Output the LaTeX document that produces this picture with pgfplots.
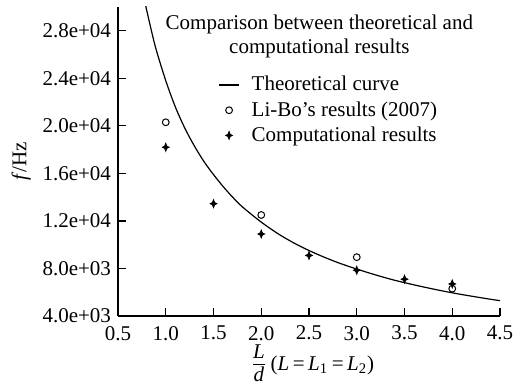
\documentclass[border=0pt]{standalone}
\usepackage{amsmath}
\usepackage{fontspec}
\setmainfont{Liberation Serif}
\usepackage{pgfplots}
\pgfplotsset{compat=1.18}

% filled four-pointed star used for the computational results
\pgfdeclareplotmark{sparkle}{%
  \pgfpathmoveto{\pgfpoint{0pt}{\pgfplotmarksize}}%
  \pgfpathlineto{\pgfpoint{0.28\pgfplotmarksize}{0.28\pgfplotmarksize}}%
  \pgfpathlineto{\pgfpoint{0.85\pgfplotmarksize}{0pt}}%
  \pgfpathlineto{\pgfpoint{0.28\pgfplotmarksize}{-0.28\pgfplotmarksize}}%
  \pgfpathlineto{\pgfpoint{0pt}{-\pgfplotmarksize}}%
  \pgfpathlineto{\pgfpoint{-0.28\pgfplotmarksize}{-0.28\pgfplotmarksize}}%
  \pgfpathlineto{\pgfpoint{-0.85\pgfplotmarksize}{0pt}}%
  \pgfpathlineto{\pgfpoint{-0.28\pgfplotmarksize}{0.28\pgfplotmarksize}}%
  \pgfpathclose
  \pgfusepathqfillstroke}

% short legend images, with a little room before the text
\pgfplotsset{
  legline/.style={legend image code/.code={\draw[##1] (0pt,0pt) -- (10pt,0pt); \path (14pt,0pt);}},
  legmark/.style={legend image code/.code={\draw[##1] plot coordinates {(5pt,0pt)}; \path (0pt,0pt) (14pt,0pt);}},
}

\begin{document}
\begin{tikzpicture}[font=\fontsize{10.5}{12.6}\selectfont]
\begin{axis}[
  name=ax,
  scale only axis,
  width=191pt, height=154.5pt,
  xmin=0.5, xmax=4.5,
  ymin=4000, ymax=30000,
  axis x line=bottom, axis y line=left,
  axis line style={-, line width=0.6pt},
  tick align=inside,
  major tick length=4pt,
  tick style={black, line width=0.6pt},
  xtick={0.5,1.0,...,4.5},
  xticklabels={0.5,1.0,1.5,2.0,2.5,3.0,3.5,4.0,4.5},
  ytick={4000,8000,12000,16000,20000,24000,28000},
  yticklabels={4.0e+03,8.0e+03,1.2e+04,1.6e+04,2.0e+04,2.4e+04,2.8e+04},
  scaled y ticks=false,
  /pgf/number format/assume math mode=true,
  ticklabel style={font=\fontsize{10.5}{12.6}\selectfont},
  xticklabel style={yshift=-1.5pt},
  label style={font=\fontsize{10.5}{12.6}\selectfont},
  xlabel={$\genfrac{}{}{0.4pt}{0}{\raisebox{-1.8pt}{\textit{L}}}{\raisebox{1.8pt}{\textit{d}}}$\,(\textit{L}\,=\,\textit{L}\textsubscript{1}\,=\,\textit{L}\textsubscript{2})},
  ylabel={\textit{f}/Hz},
  xlabel style={at={(axis description cs:0.509,0)}, anchor=base, yshift=-27pt},
  ylabel style={yshift=-1pt},
  clip=true,
  legend cell align=left,
  legend style={draw=none, fill=none, at={(0.262,0.79)}, anchor=north west,
    font=\fontsize{10.5}{12.6}\selectfont, row sep=-0.2pt, inner sep=0pt},
]
% theoretical curve
\addplot[black, line width=0.6pt, smooth, legline] coordinates {
  (0.79,30100) (0.85,28000) (0.90,26400) (1.00,23800) (1.10,21600)
  (1.20,19800) (1.30,18300) (1.40,17000) (1.50,15900) (1.60,14900)
  (1.70,14000) (1.80,13200) (2.00,11900) (2.20,10800) (2.40,9900)
  (2.60,9150) (2.80,8500) (3.00,7950) (3.20,7450) (3.40,7000)
  (3.60,6620) (3.80,6270) (4.00,5950) (4.20,5670) (4.40,5410) (4.50,5290)
};
\addlegendentry{Theoretical curve}
% Li-Bo (2007)
\addplot[only marks, mark=o, mark size=1.7pt, black, line width=0.5pt, legmark] coordinates {
  (1.0,20300) (2.0,12500) (3.0,8950) (4.0,6300)
};
\addlegendentry{Li-Bo’s results (2007)}
% computational results
\addplot[only marks, mark=sparkle, mark size=2.1pt, black, line width=0.3pt, legmark] coordinates {
  (1.0,18200) (1.5,13450) (2.0,10900) (2.5,9100) (3.0,7850) (3.5,7100) (4.0,6700)
};
\addlegendentry{Computational results}
\node[anchor=north, align=center, font=\fontsize{10.5}{12}\selectfont]
  at (axis description cs:0.527,0.998)
  {Comparison between theoretical and\\computational results};
\end{axis}
\pgfresetboundingbox
\useasboundingbox ([shift={(-59pt,-34.5pt)}]ax.south west) rectangle ([shift={(10.5pt,3.5pt)}]ax.north east);
\end{tikzpicture}
\end{document}
